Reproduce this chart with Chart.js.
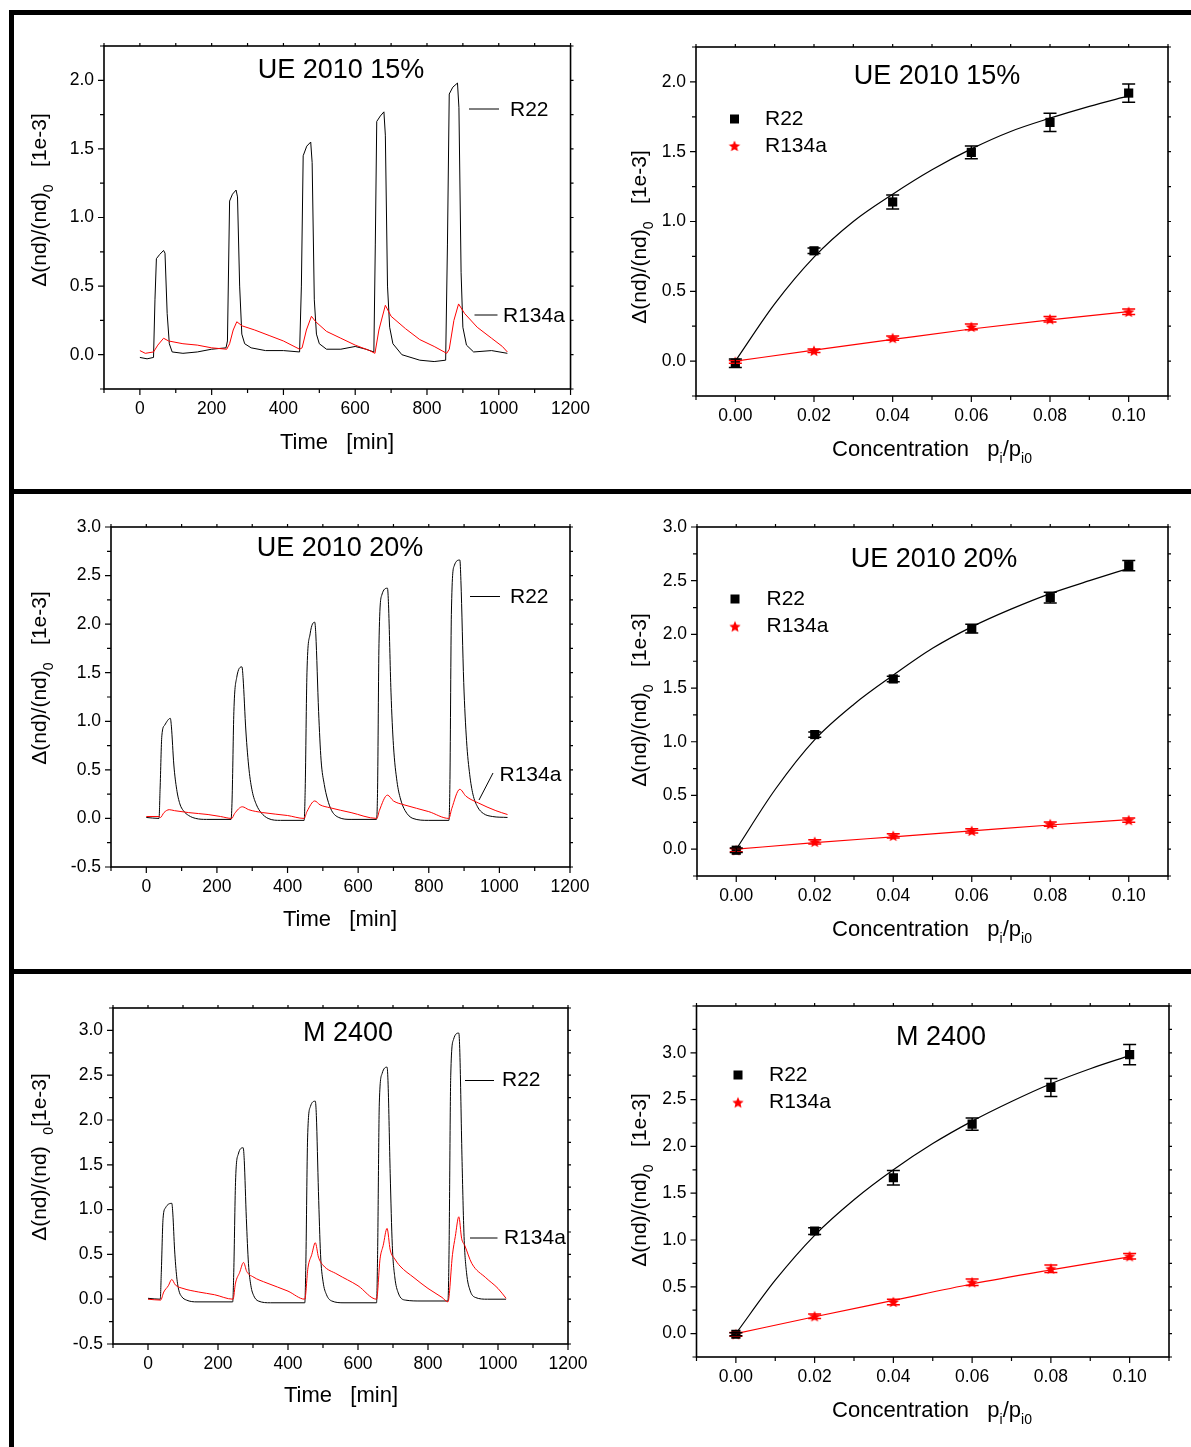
<!DOCTYPE html>
<html>
<head>
<meta charset="utf-8">
<title>Refractive index response, R22 / R134a</title>
<script src="https://cdn.jsdelivr.net/npm/chart.js@4.4.1/dist/chart.umd.min.js"></script>
<style>
html, body { margin: 0; padding: 0; background: #fff; }
#page { position: relative; width: 1191px; height: 1447px; overflow: hidden; }
#page canvas { position: absolute; }
.rule { position: absolute; background: #000; }
</style>
</head>
<body>
<div id="page">
  <canvas id="c1"></canvas>
  <canvas id="c2"></canvas>
  <canvas id="c3"></canvas>
  <canvas id="c4"></canvas>
  <canvas id="c5"></canvas>
  <canvas id="c6"></canvas>
  <div class="rule" style="left:9px;top:10px;width:1182px;height:5px"></div>
  <div class="rule" style="left:8.5px;top:10px;width:5px;height:1437px"></div>
  <div class="rule" style="left:9px;top:489px;width:1182px;height:5px"></div>
  <div class="rule" style="left:9px;top:969px;width:1182px;height:5px"></div>
</div>
<script>
// ---- time runs, [time (min), d(nd)/(nd)0 (1e-3)] ----
var ue15TimeR22 = [[0,-0.02],[20,-0.03],[38,-0.02],[42,0.40],[46,0.70],[55,0.73],[66,0.76],[70,0.74],[76,0.30],[82,0.08],[90,0.02],[120,0.01],[160,0.02],[200,0.04],[240,0.05],[244,0.10],[250,1.12],[258,1.17],[268,1.20],[272,1.15],[278,0.50],[284,0.15],[292,0.08],[310,0.05],[350,0.03],[400,0.03],[445,0.02],[450,0.50],[455,1.45],[465,1.52],[476,1.55],[480,1.40],[486,0.40],[492,0.15],[500,0.08],[520,0.04],[560,0.04],[600,0.06],[630,0.04],[652,0.02],[656,0.80],[660,1.70],[670,1.74],[680,1.77],[684,1.60],[690,0.50],[696,0.20],[705,0.08],[730,0.00],[780,-0.04],[820,-0.05],[852,-0.04],[857,0.80],[862,1.90],[872,1.95],[885,1.98],[889,1.80],[895,0.60],[900,0.20],[910,0.07],[930,0.02],[980,0.03],[1024,0.01]];
var ue15TimeR134a = [[0,0.03],[15,0.01],[38,0.02],[50,0.07],[66,0.12],[80,0.10],[120,0.08],[160,0.07],[200,0.05],[242,0.04],[250,0.08],[260,0.18],[270,0.24],[285,0.21],[320,0.18],[360,0.14],[400,0.10],[445,0.04],[452,0.05],[464,0.18],[478,0.28],[490,0.24],[520,0.17],[560,0.12],[600,0.07],[640,0.03],[655,0.01],[666,0.18],[684,0.36],[700,0.28],[740,0.19],[780,0.11],[820,0.06],[855,0.01],[862,0.04],[875,0.25],[888,0.37],[905,0.30],[940,0.20],[980,0.12],[1010,0.06],[1024,0.02]];

var ue20TimeR22 = [[0,0.01],[36,0.0],[39,0.3],[44,0.85],[52,0.96],[68,1.03],[71,0.95],[78,0.55],[86,0.3],[95,0.15],[105,0.08],[120,0.03],[140,0.0],[170,-0.01],[240,-0.01],[243,0.2],[248,1.1],[256,1.45],[271,1.56],[274,1.45],[282,0.9],[291,0.5],[300,0.28],[312,0.14],[325,0.06],[345,0.0],[380,-0.02],[447,-0.02],[450,0.3],[455,1.5],[464,1.9],[477,2.02],[480,1.9],[488,1.1],[495,0.6],[504,0.35],[513,0.2],[525,0.08],[545,0.01],[580,-0.01],[652,-0.01],[655,0.3],[659,1.8],[667,2.3],[683,2.37],[686,2.2],[693,1.3],[700,0.75],[710,0.38],[720,0.2],[733,0.08],[755,0.0],[800,-0.02],[857,-0.02],[860,0.4],[864,2.1],[872,2.6],[888,2.66],[891,2.45],[899,1.4],[907,0.8],[916,0.45],[925,0.25],[938,0.12],[955,0.05],[980,0.02],[1023,0.01]];
var ue20TimeR134a = [[0,0.02],[36,0.02],[40,0.01],[50,0.06],[65,0.09],[80,0.08],[120,0.06],[175,0.04],[210,0.02],[242,0.0],[250,0.05],[272,0.12],[290,0.09],[330,0.06],[400,0.03],[447,0.0],[455,0.07],[477,0.18],[492,0.14],[520,0.11],[580,0.06],[653,0.0],[660,0.08],[683,0.24],[700,0.18],[730,0.14],[800,0.07],[857,0.0],[865,0.1],[888,0.3],[905,0.23],[940,0.16],[990,0.08],[1023,0.04]];

var m2400TimeR22 = [[0,0.01],[35,0.0],[38,0.3],[43,0.9],[50,1.02],[68,1.07],[71,0.95],[76,0.55],[82,0.25],[88,0.1],[96,0.03],[110,-0.01],[140,-0.03],[242,-0.03],[245,0.3],[250,1.3],[258,1.62],[272,1.69],[275,1.55],[281,0.9],[287,0.4],[294,0.15],[302,0.04],[315,-0.02],[350,-0.04],[448,-0.04],[451,0.4],[456,1.8],[464,2.15],[478,2.21],[481,2.05],[487,1.2],[493,0.5],[500,0.2],[510,0.05],[525,-0.02],[560,-0.04],[653,-0.04],[656,0.5],[661,2.2],[669,2.52],[683,2.59],[686,2.4],[692,1.4],[698,0.6],[705,0.25],[715,0.07],[735,-0.01],[780,-0.02],[857,-0.02],[860,0.5],[865,2.5],[873,2.9],[888,2.97],[891,2.75],[897,1.6],[903,0.7],[910,0.3],[920,0.1],[935,0.02],[970,0.0],[1023,0.0]];
var m2400TimeR134a = [[0,0.0],[36,-0.01],[45,0.08],[58,0.15],[68,0.22],[78,0.16],[100,0.12],[145,0.08],[190,0.05],[243,0.0],[250,0.18],[262,0.30],[273,0.41],[282,0.31],[300,0.25],[340,0.18],[400,0.09],[448,0.0],[457,0.35],[468,0.5],[478,0.63],[487,0.47],[500,0.38],[540,0.28],[600,0.15],[653,0.0],[663,0.45],[672,0.6],[683,0.79],[692,0.55],[705,0.45],[720,0.37],[760,0.24],[800,0.12],[840,0.02],[857,-0.03],[870,0.5],[878,0.7],[888,0.92],[896,0.68],[905,0.6],[925,0.4],[965,0.24],[1000,0.12],[1023,0.01]];

// ---- calibration, response vs concentration ----
var conc = [0, 0.02, 0.04, 0.06, 0.08, 0.10];
var fitConc = [0, 0.01, 0.02, 0.03, 0.04, 0.05, 0.06, 0.07, 0.08, 0.09, 0.10];

var ue15R22 = [-0.015, 0.79, 1.14, 1.495, 1.71, 1.92];
var ue15R22Err = [0.03, 0.02, 0.05, 0.045, 0.065, 0.065];
var ue15R134a = [-0.005, 0.074, 0.165, 0.245, 0.30, 0.353];
var ue15R134aErr = [0.01, 0.012, 0.015, 0.02, 0.02, 0.02];
var ue15R22Fit = [0, 0.41, 0.745, 1.0, 1.195, 1.37, 1.52, 1.645, 1.74, 1.825, 1.9];
var ue15R134aFit = [0, 0.078, 0.155, 0.23, 0.295, 0.355];

var ue20R22 = [-0.01, 1.067, 1.585, 2.054, 2.342, 2.64];
var ue20R22Err = [0.02, 0.025, 0.025, 0.04, 0.05, 0.047];
var ue20R134a = [-0.01, 0.068, 0.124, 0.17, 0.233, 0.27];
var ue20R134aErr = [0.015, 0.02, 0.02, 0.02, 0.02, 0.02];
var ue20R22Fit = [0, 0.56, 1.02, 1.35, 1.62, 1.87, 2.07, 2.235, 2.38, 2.5, 2.615];
var ue20R134aFit = [0, 0.06, 0.115, 0.17, 0.225, 0.275];

var m2400R22 = [-0.007, 1.096, 1.665, 2.238, 2.63, 2.98];
var m2400R22Err = [0.015, 0.036, 0.077, 0.066, 0.096, 0.109];
var m2400R134a = [-0.007, 0.185, 0.338, 0.548, 0.694, 0.826];
var m2400R134aErr = [0.02, 0.025, 0.03, 0.035, 0.04, 0.03];
var m2400R22Fit = [0, 0.57, 1.05, 1.43, 1.75, 2.03, 2.27, 2.48, 2.67, 2.83, 2.97];
var m2400R134aFit = [0, 0.18, 0.355, 0.53, 0.68, 0.82];

// ---- tick labels ----
var timeTickLabels = ['0', '200', '400', '600', '800', '1000', '1200'];
var concTickLabels = ['0.00', '0.02', '0.04', '0.06', '0.08', '0.10'];
var yLabels2 = ['0.0', '0.5', '1.0', '1.5', '2.0'];
var yLabels3 = ['0.0', '0.5', '1.0', '1.5', '2.0', '2.5', '3.0'];
var yLabels3neg = ['-0.5', '0.0', '0.5', '1.0', '1.5', '2.0', '2.5', '3.0'];

var FONT = "'Liberation Sans', Arial, Helvetica, sans-serif";
var AXIS_W = 50, AXIS_H = 40;
var RED = '#ff0000';

Chart.defaults.font.family = FONT;
Chart.defaults.color = '#000';

function makeStar(r, color) {
    var c = document.createElement('canvas');
    var s = Math.ceil(r * 2 + 2);
    c.width = s;
    c.height = s;
    var g = c.getContext('2d');
    g.fillStyle = color;
    g.beginPath();
    for (var i = 0; i < 10; i++) {
        var rad = (i % 2) ? r * 0.45 : r;
        var ang = -Math.PI / 2 + i * Math.PI / 5;
        var px = s / 2 + rad * Math.cos(ang), py = s / 2 + 0.5 + rad * Math.sin(ang);
        if (i === 0) { g.moveTo(px, py); } else { g.lineTo(px, py); }
    }
    g.closePath();
    g.fill();
    return c;
}
var starImg = makeStar(6, RED);

function pairs(list) {
    return list.map(function(p) { return {x: p[0], y: p[1]}; });
}
function zipXY(xs, ys) {
    return xs.map(function(x, i) { return {x: x, y: ys[i]}; });
}

function timeSets(r22, r134a, smooth) {
    var mode = smooth ? 'monotone' : 'default';
    return [
        {data: pairs(r134a), showLine: true, borderColor: RED, borderWidth: 1, pointRadius: 0,
            tension: 0, cubicInterpolationMode: mode},
        {data: pairs(r22), showLine: true, borderColor: '#000', borderWidth: 1, pointRadius: 0,
            tension: 0, cubicInterpolationMode: mode}
    ];
}

function concSets(r22, r22Err, r22Fit, r134a, r134aErr, r134aFit) {
    return [
        {data: zipXY(conc, r22), errors: r22Err, errColor: '#000', pointStyle: 'rect', pointRadius: 6.5,
            backgroundColor: '#000', borderWidth: 0},
        {data: zipXY(fitConc, r22Fit), showLine: true, borderColor: '#000', borderWidth: 1.2, pointRadius: 0,
            cubicInterpolationMode: 'monotone'},
        {data: zipXY(conc, r134a), errors: r134aErr, errColor: RED, pointStyle: starImg, pointRadius: 6,
            backgroundColor: RED, borderWidth: 0},
        {data: zipXY(conc, r134aFit), showLine: true, borderColor: RED, borderWidth: 1.2, pointRadius: 0,
            cubicInterpolationMode: 'monotone'}
    ];
}

var timeXTitle = [['Time   [min]', 0]];
var concXTitle = [['Concentration   p', 0], ['i', 1], ['/p', 0], ['i0', 1]];
var yTitle = [['\u0394(nd)/(nd)', 0], ['0', 1], ['   [1e-3]', 0]];
var yTitleM = [['\u0394(nd)/(nd)  ', 0], ['0', 1], ['[1e-3]', 0]];

var panels = [
    {id: 'c1', cx: 14, cy: 15, cw: 586, ch: 474, frame: [104, 46, 571, 389],
        xr: [-100, 1200], xStep: 100, xDigits: 0, xLabels: timeTickLabels,
        yr: [-0.25, 2.25], yLabels: yLabels2,
        datasets: timeSets(ue15TimeR22, ue15TimeR134a, false),
        title: ['UE 2010 15%', 341, 71], xTitle: [timeXTitle, 337, 443], yTitle: [yTitle, 40, 200],
        tags: [['R22', 510, 110, 469, 109, 499, 109], ['R134a', 503, 316, 474.5, 315, 497.5, 315]]},
    {id: 'c2', cx: 14, cy: 494, cw: 586, ch: 475, frame: [111, 527, 570, 867],
        xr: [-100, 1200], xStep: 100, xDigits: 0, xLabels: timeTickLabels,
        yr: [-0.5, 3.0], yLabels: yLabels3neg,
        datasets: timeSets(ue20TimeR22, ue20TimeR134a, true),
        title: ['UE 2010 20%', 340, 549], xTitle: [timeXTitle, 340, 920], yTitle: [yTitle, 40, 678],
        tags: [['R22', 510, 597, 470, 596.5, 500, 596.5], ['R134a', 499.5, 775, 493, 773, 479, 800]]},
    {id: 'c3', cx: 14, cy: 974, cw: 586, ch: 473, frame: [113, 1008, 568, 1344],
        xr: [-100, 1200], xStep: 100, xDigits: 0, xLabels: timeTickLabels,
        yr: [-0.5, 3.25], yLabels: yLabels3neg,
        datasets: timeSets(m2400TimeR22, m2400TimeR134a, true),
        title: ['M 2400', 348, 1034], xTitle: [timeXTitle, 341, 1396], yTitle: [yTitleM, 40, 1157],
        tags: [['R22', 502, 1080, 465, 1080.5, 494, 1080.5], ['R134a', 504, 1238, 470, 1238, 497.5, 1238]]},
    {id: 'c4', cx: 600, cy: 15, cw: 591, ch: 474, frame: [696, 47, 1168, 396],
        xr: [-0.01, 0.11], xStep: 0.01, xDigits: 2, xLabels: concTickLabels,
        yr: [-0.25, 2.25], yLabels: yLabels2,
        datasets: concSets(ue15R22, ue15R22Err, ue15R22Fit, ue15R134a, ue15R134aErr, ue15R134aFit),
        title: ['UE 2010 15%', 937, 77], xTitle: [concXTitle, 932, 450], yTitle: [yTitle, 640, 237],
        legend: [734.5, 119, 146, 765]},
    {id: 'c5', cx: 600, cy: 494, cw: 591, ch: 475, frame: [697, 527, 1168, 876],
        xr: [-0.01, 0.11], xStep: 0.01, xDigits: 2, xLabels: concTickLabels,
        yr: [-0.25, 3.0], yLabels: yLabels3,
        datasets: concSets(ue20R22, ue20R22Err, ue20R22Fit, ue20R134a, ue20R134aErr, ue20R134aFit),
        title: ['UE 2010 20%', 934, 560], xTitle: [concXTitle, 932, 930], yTitle: [yTitle, 640, 700],
        legend: [735, 599, 626.5, 766.5]},
    {id: 'c6', cx: 600, cy: 974, cw: 591, ch: 473, frame: [696.5, 1006, 1169, 1357],
        xr: [-0.01, 0.11], xStep: 0.01, xDigits: 2, xLabels: concTickLabels,
        yr: [-0.25, 3.5], yLabels: yLabels3,
        datasets: concSets(m2400R22, m2400R22Err, m2400R22Fit, m2400R134a, m2400R134aErr, m2400R134aFit),
        title: ['M 2400', 941, 1038], xTitle: [concXTitle, 932, 1411], yTitle: [yTitle, 640, 1180],
        legend: [738, 1075, 1102.5, 769]}
];

// text with subscripts, centred on (x, y), optionally turned upwards
function drawParts(ctx, parts, x, y, size, rot) {
    var w = 0;
    parts.forEach(function(p) {
        ctx.font = (p[1] ? 14 : size) + 'px ' + FONT;
        w += ctx.measureText(p[0]).width;
    });
    ctx.save();
    ctx.translate(x, y);
    if (rot) {
        ctx.rotate(-Math.PI / 2);
    }
    ctx.textAlign = 'left';
    ctx.textBaseline = 'middle';
    var cur = -w / 2;
    parts.forEach(function(p) {
        ctx.font = (p[1] ? 14 : size) + 'px ' + FONT;
        ctx.fillText(p[0], cur, p[1] ? 9 : 0);
        cur += ctx.measureText(p[0]).width;
    });
    ctx.restore();
}

function fmt(v, digits) {
    if (Math.abs(v) < 1e-9) {
        v = 0;
    }
    return v.toFixed(digits);
}

function panelPlugin(p) {
    return {
        id: 'panel_' + p.id,
        afterDatasetsDraw: function(chart) {
            var ctx = chart.ctx, sy = chart.scales.y;
            for (var d = chart.data.datasets.length - 1; d >= 0; d--) {
                var ds = chart.data.datasets[d];
                if (!ds.errors) {
                    continue;
                }
                var meta = chart.getDatasetMeta(d);
                ctx.save();
                ctx.strokeStyle = ds.errColor;
                ctx.lineWidth = 1.5;
                ctx.beginPath();
                meta.data.forEach(function(pt, i) {
                    var v = ds.data[i].y;
                    var yt = sy.getPixelForValue(v + ds.errors[i]);
                    var yb = sy.getPixelForValue(v - ds.errors[i]);
                    ctx.moveTo(pt.x, yt); ctx.lineTo(pt.x, yb);
                    ctx.moveTo(pt.x - 6.5, yt); ctx.lineTo(pt.x + 6.5, yt);
                    ctx.moveTo(pt.x - 6.5, yb); ctx.lineTo(pt.x + 6.5, yb);
                });
                ctx.stroke();
                ctx.restore();
            }
        },
        afterDraw: function(chart) {
            var ctx = chart.ctx, a = chart.chartArea;
            var sx = chart.scales.x, sy = chart.scales.y;
            var ox = p.cx, oy = p.cy;
            ctx.save();
            // ticks on all four sides, Origin style
            ctx.strokeStyle = '#000';
            ctx.lineWidth = 1.2;
            ctx.beginPath();
            sx.ticks.forEach(function(t) {
                var x = sx.getPixelForValue(t.value);
                ctx.moveTo(x, a.bottom); ctx.lineTo(x, a.bottom + (t.label ? 6 : 4));
                ctx.moveTo(x, a.top); ctx.lineTo(x, a.top - 3);
            });
            sy.ticks.forEach(function(t) {
                var y = sy.getPixelForValue(t.value);
                ctx.moveTo(a.left, y); ctx.lineTo(a.left - (t.label ? 6 : 4), y);
                ctx.moveTo(a.right, y); ctx.lineTo(a.right + 3, y);
            });
            ctx.stroke();
            ctx.lineWidth = 1.6;
            ctx.strokeRect(a.left, a.top, a.right - a.left, a.bottom - a.top);

            ctx.fillStyle = '#000';
            ctx.textBaseline = 'middle';
            ctx.textAlign = 'center';
            ctx.font = '27px ' + FONT;
            ctx.fillText(p.title[0], p.title[1] - ox, p.title[2] - oy);

            drawParts(ctx, p.xTitle[0], p.xTitle[1] - ox, p.xTitle[2] - oy, 22, false);
            drawParts(ctx, p.yTitle[0], p.yTitle[1] - ox, p.yTitle[2] - oy, 21, true);

            ctx.font = '21px ' + FONT;
            ctx.textAlign = 'left';
            (p.tags || []).forEach(function(t) {
                ctx.lineWidth = 1;
                ctx.beginPath();
                ctx.moveTo(t[3] - ox, t[4] - oy);
                ctx.lineTo(t[5] - ox, t[6] - oy);
                ctx.stroke();
                ctx.fillText(t[0], t[1] - ox, t[2] - oy);
            });

            if (p.legend) {
                var lg = p.legend;
                ctx.fillRect(lg[0] - 4.5 - ox, lg[1] - 4.5 - oy, 9, 9);
                ctx.drawImage(starImg, lg[0] - ox - starImg.width / 2, lg[2] - oy - starImg.height / 2);
                ctx.fillText('R22', lg[3] - ox, lg[1] - oy);
                ctx.fillText('R134a', lg[3] - ox, lg[2] - oy);
            }
            ctx.restore();
        }
    };
}

function makeChart(p) {
    var canvas = document.getElementById(p.id);
    canvas.width = p.cw;
    canvas.height = p.ch;
    canvas.style.left = p.cx + 'px';
    canvas.style.top = p.cy + 'px';
    var f = p.frame;
    return new Chart(canvas.getContext('2d'), {
        type: 'scatter',
        data: {datasets: p.datasets},
        options: {
            responsive: false,
            animation: false,
            events: [],
            layout: {
                padding: {
                    left: f[0] - p.cx - AXIS_W,
                    top: f[1] - p.cy,
                    right: p.cx + p.cw - f[2],
                    bottom: p.cy + p.ch - f[3] - AXIS_H
                }
            },
            plugins: {legend: {display: false}, tooltip: {enabled: false}},
            scales: {
                x: {
                    type: 'linear',
                    min: p.xr[0],
                    max: p.xr[1],
                    grid: {display: false, drawTicks: false},
                    border: {display: false},
                    afterFit: function(s) { s.height = AXIS_H; },
                    ticks: {
                        stepSize: p.xStep,
                        autoSkip: false,
                        maxRotation: 0,
                        padding: 10,
                        color: '#000',
                        font: {size: 17.5},
                        callback: function(v) {
                            var s = fmt(v, p.xDigits);
                            return p.xLabels.indexOf(s) >= 0 ? s : '';
                        }
                    }
                },
                y: {
                    type: 'linear',
                    min: p.yr[0],
                    max: p.yr[1],
                    grid: {display: false, drawTicks: false},
                    border: {display: false},
                    afterFit: function(s) { s.width = AXIS_W; },
                    ticks: {
                        stepSize: 0.25,
                        autoSkip: false,
                        padding: 10,
                        color: '#000',
                        font: {size: 17.5},
                        callback: function(v) {
                            var s = fmt(v, 1);
                            return (Math.round(Math.abs(v) * 4) % 2 === 0 && p.yLabels.indexOf(s) >= 0) ? s : '';
                        }
                    }
                }
            }
        },
        plugins: [panelPlugin(p)]
    });
}

panels.forEach(makeChart);
</script>
</body>
</html>
